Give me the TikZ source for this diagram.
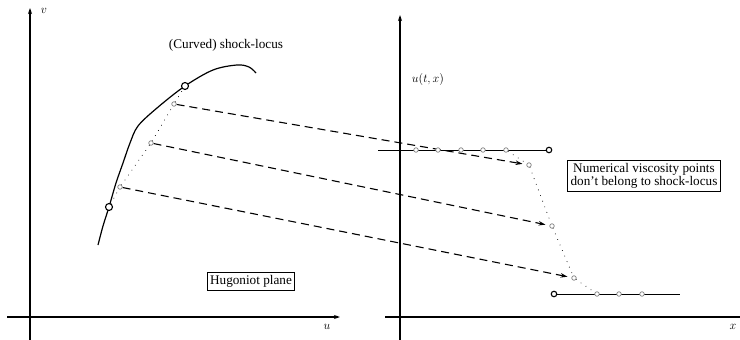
\documentclass[tikz,border=0pt]{standalone}
\usepackage{fontspec}
\setmainfont{Liberation Serif}
\usetikzlibrary{arrows.meta}
\pgfdeclarelayer{bg}
\pgfsetlayers{bg,main}
\begin{document}
\begin{tikzpicture}[x=1pt,y=-1pt,
  axis/.style={line width=1.1pt,-{Stealth[length=6pt,width=4pt]}},
  curveline/.style={line width=1.2pt},
  dashar/.style={line width=1.1pt,dash pattern=on 8pt off 5pt,-{Stealth[length=7pt,width=4.5pt]},shorten >=4pt},
  dotline/.style={line width=1pt,dash pattern=on 0.01pt off 6pt,line cap=round},
  gpt/.style={circle,draw=gray,fill=white,line width=0.7pt,inner sep=0pt,minimum size=4.5pt},
  opt/.style={circle,draw,fill=white,line width=1.1pt,inner sep=0pt,minimum size=7pt},
  opts/.style={opt,minimum size=5.5pt},
  lbl/.style={font=\fontsize{13.2}{15}\selectfont},
  boxn/.style={draw,line width=0.9pt,font=\fontsize{13.2}{15}\selectfont,inner sep=3pt,align=center}]
\useasboundingbox (0,0) rectangle (740,340);

% axes
\coordinate (lvb) at (30,340);
\coordinate (lvt) at (30,8);
\coordinate (lhl) at (7,317);
\coordinate (lhr) at (340,317);
\coordinate (rvb) at (400,340);
\coordinate (rvt) at (400,15);
\coordinate (rhl) at (385,317);
\coordinate (rhr) at (740,317);
\draw[axis] (lvb) -- (lvt);
\draw[axis] (lhl) -- (lhr);
\draw[axis] (rvb) -- (rvt);
\draw[line width=1.1pt] (rhl) -- (rhr);

\node[lbl] (vl) at (44,11) {$v$};
\node[lbl] (ul) at (327,327) {$u$};
\node[lbl] (xl) at (733,327) {$x$};
\node[lbl] (utx) at (428,79) {$u(t,x)$};
\node[lbl] (sl) at (226,45) {(Curved) shock-locus};
\node[boxn] (hp) at (251,281) {Hugoniot plane};
\node[boxn] (nv) at (644,176) {Numerical viscosity points\\[-2pt]don't belong to shock-locus};

% shock locus curve
\draw[curveline] plot[smooth,tension=0.55] coordinates {(98,245) (103,226) (109,207) (116,183) (123,163) (130,143) (138,126) (157,108) (185,86) (213,70) (237,65) (249,67) (256,73)};

% left points
\node[opt] (L1) at (109,207) {};
\node[opt] (L2) at (185,86) {};
\node[gpt] (a1) at (120,187) {};
\node[gpt] (a2) at (151,143) {};
\node[gpt] (a3) at (174,104) {};

% right profile
\node[opts] (c1) at (549,150) {};
\node[opts] (c2) at (554,294) {};
\node[gpt] (g1) at (416,150) {};
\node[gpt] (g2) at (438,150) {};
\node[gpt] (g3) at (461,150) {};
\node[gpt] (g4) at (483,150) {};
\node[gpt] (g5) at (506,150) {};
\node[gpt] (b1) at (529,165) {};
\node[gpt] (b2) at (552,226) {};
\node[gpt] (b3) at (574,278) {};
\node[gpt] (h1) at (597,294) {};
\node[gpt] (h2) at (619,294) {};
\node[gpt] (h3) at (642,294) {};
\coordinate (ul0) at (378,150);
\coordinate (ll1) at (680,294);

\begin{pgfonlayer}{bg}
\draw[line width=0.9pt] (ul0) -- (c1);
\draw[line width=0.9pt] (c2) -- (ll1);
\draw[dotline] (L1) -- (a1) -- (a2) -- (a3) -- (L2);
\draw[dotline] (g5) -- (b1) -- (b2) -- (b3) -- (h1);
\draw[dashar] (a3) -- (b1);
\draw[dashar] (a2) -- (b2);
\draw[dashar] (a1) -- (b3);
\end{pgfonlayer}
\end{tikzpicture}
\end{document}
